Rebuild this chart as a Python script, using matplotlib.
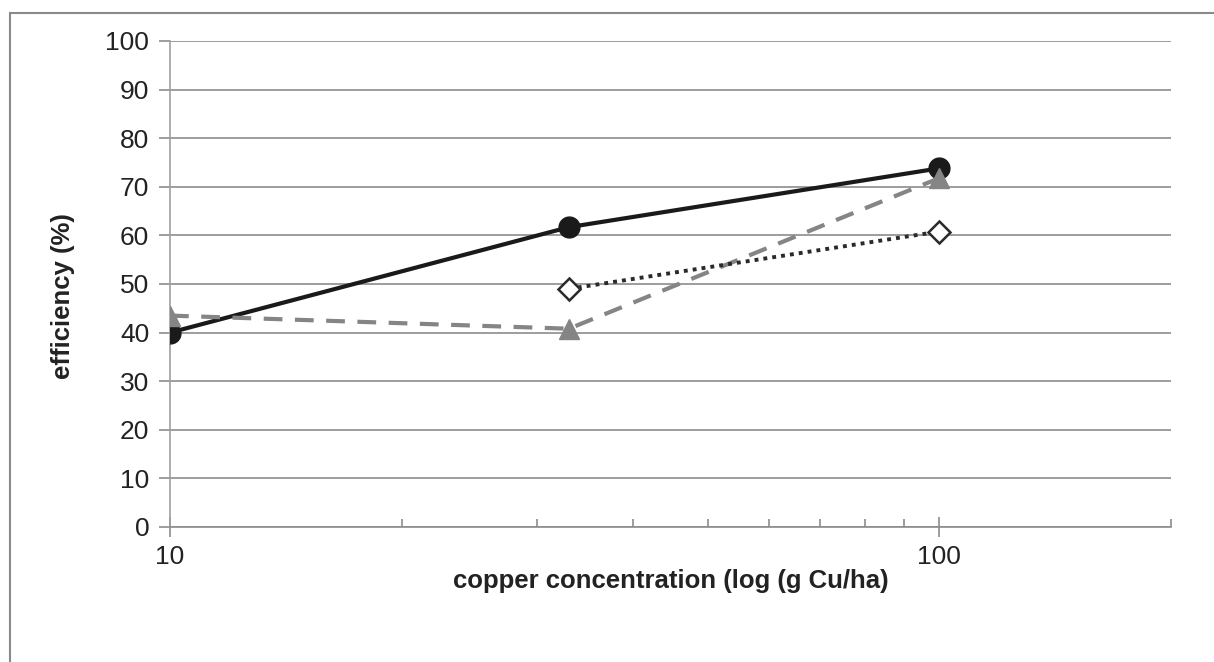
import matplotlib.pyplot as plt
from matplotlib.patches import Rectangle
from matplotlib.ticker import FixedLocator, NullFormatter

plt.rcParams['font.family'] = ['Liberation Sans', 'DejaVu Sans']

conc_a = [10, 33, 100]
eff_a = [40, 61.7, 73.8]

conc_b = [10, 33, 100]
eff_b = [43.5, 40.8, 71.8]

conc_c = [33, 100]
eff_c = [49, 60.8]

y_ticks = list(range(0, 101, 10))

fig = plt.figure(figsize=(12.14, 6.62), dpi=100)
fig.patches.append(Rectangle((10 / 1214, -0.1), 1.2, 1.1 - 13 / 662, transform=fig.transFigure,
                             fill=False, edgecolor='#8a8a8a', linewidth=1.5))
ax = fig.add_axes([170 / 1214, 1 - 527 / 662, (1171 - 170) / 1214, (527 - 41) / 662])

ax.plot(conc_a, eff_a, color='#1a1a1a', linewidth=3, marker='o', markersize=15, zorder=3)
ax.plot(conc_b, eff_b, color='#858585', linewidth=3, linestyle=(0, (4.5, 3)),
        marker='^', markersize=14, zorder=4)
ax.plot(conc_c, eff_c, color='#2a2a2a', linewidth=2.8, linestyle=(0, (1.0, 1.3)),
        marker='D', markersize=11.5, markerfacecolor='white', markeredgecolor='#2a2a2a',
        markeredgewidth=1.8, zorder=5)

ax.set_xscale('log')
ax.set_xlim(10, 200)
ax.set_ylim(0, 100)
ax.xaxis.set_major_locator(FixedLocator([10, 100]))
ax.xaxis.set_minor_locator(FixedLocator([20, 30, 40, 50, 60, 70, 80, 90, 200]))
ax.xaxis.set_minor_formatter(NullFormatter())
ax.set_xticklabels(['10', '100'])
ax.set_yticks(y_ticks)

ax.grid(axis='y', color='#8c8c8c', linewidth=1.2)
ax.set_axisbelow(True)
for s in ['top', 'right']:
    ax.spines[s].set_visible(False)
ax.spines['left'].set_color('#a0a0a0')
ax.spines['left'].set_linewidth(1.2)
ax.spines['bottom'].set_color('#8c8c8c')
ax.spines['bottom'].set_linewidth(1.2)

ax.tick_params(axis='y', direction='out', length=8, color='#8c8c8c', width=1.2,
               labelsize=19, pad=7, labelcolor='#222222')
ax.tick_params(axis='x', which='major', direction='inout', length=14, color='#8c8c8c', width=1.2,
               labelsize=19, pad=6, labelcolor='#222222')
ax.tick_params(axis='x', which='minor', direction='in', length=6, color='#8c8c8c', width=1.2)

ax.set_xlabel('copper concentration (log (g Cu/ha)', fontsize=18.5, fontweight='bold',
              color='#222222')
ax.set_ylabel('efficiency (%)', fontsize=18.5, fontweight='bold', color='#222222')
ax.xaxis.set_label_coords(0.5, -0.086)
ax.yaxis.set_label_coords(-0.095, 0.475)

fig.savefig('out.png', dpi=100)
